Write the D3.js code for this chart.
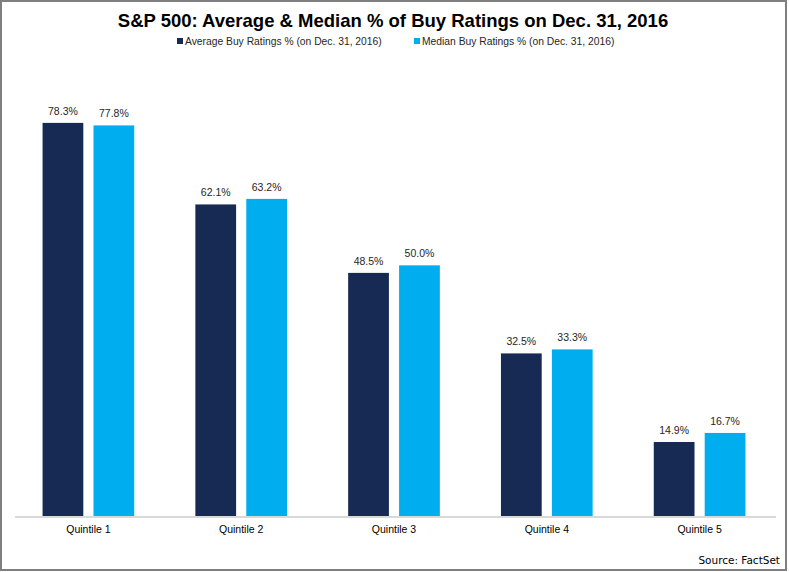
<!DOCTYPE html>
<html>
<head>
<meta charset="utf-8">
<script src="https://cdn.jsdelivr.net/npm/d3@7"></script>
<style>
  body { margin: 0; background: #fff; }
  svg { display: block; font-family: "Liberation Sans", Arial, sans-serif; }
</style>
</head>
<body>
<div id="chart"></div>
<script>
const quintiles = ["Quintile 1", "Quintile 2", "Quintile 3", "Quintile 4", "Quintile 5"];
const seriesNames = ["Average Buy Ratings % (on Dec. 31, 2016)", "Median Buy Ratings % (on Dec. 31, 2016)"];
const averageValues = [78.3, 62.1, 48.5, 32.5, 14.9];
const medianValues = [77.8, 63.2, 50.0, 33.3, 16.7];

const seriesColor = d3.scaleOrdinal()
    .domain(seriesNames)
    .range(["#172a53", "#00adef"]);

const width = 789, height = 572;
const margin = { top: 64, right: 13, bottom: 55, left: 12 };

let rows = quintiles.map((q, i) => ({
    category: q,
    values: [
        { series: seriesNames[0], value: averageValues[i] },
        { series: seriesNames[1], value: medianValues[i] }
    ]
}));

let svg = d3.select("#chart").append("svg")
    .attr("width", width)
    .attr("height", height);

// outer frame
svg.append("rect")
    .attr("x", 1).attr("y", 1)
    .attr("width", width - 4).attr("height", height - 3)
    .attr("fill", "none")
    .attr("stroke", "#7f7f7f")
    .attr("stroke-width", 2);

svg.append("text")
    .attr("x", 393).attr("y", 27)
    .attr("text-anchor", "middle")
    .style("font-size", "18.5px")
    .style("font-weight", "bold")
    .style("fill", "#000")
    .text("S&P 500: Average & Median % of Buy Ratings on Dec. 31, 2016");

// legend
let legendX = [177, 414];
let legend = svg.append("g")
    .selectAll("g")
    .data(seriesNames)
    .join("g")
    .attr("transform", (d, i) => `translate(${legendX[i]}, 41)`);
legend.append("rect")
    .attr("x", 0).attr("y", -3)
    .attr("width", 6).attr("height", 6)
    .attr("fill", d => seriesColor(d));
legend.append("text")
    .attr("x", 8).attr("y", 3.5)
    .style("font-size", "10.3px")
    .style("fill", "#262626")
    .text(d => d);

let x0 = d3.scaleBand()
    .domain(quintiles)
    .range([margin.left, width - margin.right])
    .paddingInner(0.4)
    .paddingOuter(0.2);

let x1 = d3.scaleBand()
    .domain(seriesNames)
    .range([0, x0.bandwidth()])
    .paddingInner(0.2);

let y = d3.scaleLinear()
    .domain([0, 90])
    .range([height - margin.bottom, margin.top]);

let groups = svg.append("g")
    .selectAll("g")
    .data(rows)
    .join("g")
    .attr("transform", d => `translate(${x0(d.category)}, 0)`);

groups.selectAll("rect")
    .data(d => d.values)
    .join("rect")
    .attr("x", d => x1(d.series))
    .attr("y", d => y(d.value))
    .attr("width", x1.bandwidth())
    .attr("height", d => y(0) - y(d.value))
    .attr("fill", d => seriesColor(d.series));

groups.selectAll("text")
    .data(d => d.values)
    .join("text")
    .attr("x", d => x1(d.series) + x1.bandwidth() / 2)
    .attr("y", d => y(d.value) - 8)
    .attr("text-anchor", "middle")
    .style("font-size", "10.5px")
    .style("fill", "#262626")
    .text(d => d.value.toFixed(1) + "%");

// x axis
let xAxis = svg.append("g")
    .attr("transform", `translate(0, ${y(0)})`)
    .call(d3.axisBottom(x0).tickSize(0).tickPadding(9));
xAxis.select(".domain")
    .attr("stroke", "#d9d9d9")
    .attr("stroke-width", 2)
    .attr("d", `M${margin.left + 3},0H${width - margin.right}`);
xAxis.selectAll("text")
    .style("font-size", "10.5px")
    .style("fill", "#000")
    .style("font-family", "\"Liberation Sans\", Arial, sans-serif");

svg.append("text")
    .attr("x", 780).attr("y", 564)
    .attr("text-anchor", "end")
    .style("font-size", "10.5px")
    .style("fill", "#000")
    .style("font-family", "\"DejaVu Sans\", sans-serif")
    .text("Source: FactSet");
</script>
</body>
</html>
